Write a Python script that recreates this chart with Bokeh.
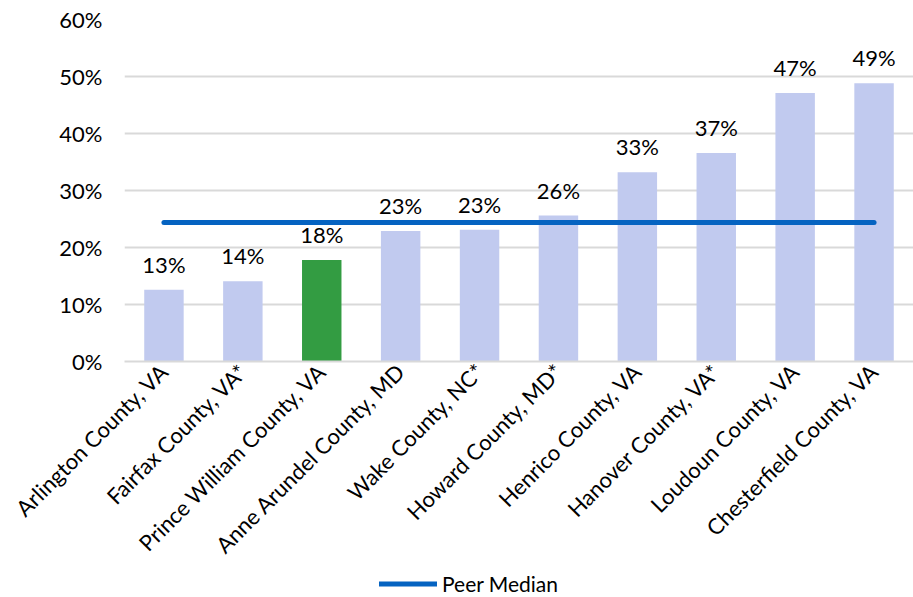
from bokeh.plotting import figure
from bokeh.layouts import column
from bokeh.models import (ColumnDataSource, FactorRange, Range1d, NumeralTickFormatter,
                          LabelSet, Legend, LegendItem, FixedTicker)
from bokeh.core.properties import value
from bokeh.embed import file_html
from bokeh.resources import INLINE

# Share of each peer county, sorted ascending
counties = [
    "Arlington County, VA",
    "Fairfax County, VA*",
    "Prince William County, VA",
    "Anne Arundel County, MD",
    "Wake County, NC*",
    "Howard County, MD*",
    "Henrico County, VA",
    "Hanover County, VA*",
    "Loudoun County, VA",
    "Chesterfield County, VA",
]
shares = [0.126, 0.141, 0.178, 0.229, 0.231, 0.256, 0.332, 0.366, 0.471, 0.488]
highlight = "Prince William County, VA"
peer_median = 0.244
y_ticks = [0.0, 0.1, 0.2, 0.3, 0.4, 0.5, 0.6]

FONT = "Lato"
FS = "22px"
BAR = "#C1CAEF"
GREEN = "#339C42"
BLUE = "#0563C1"
GRID = "#D9D9D9"

colors = [GREEN if c == highlight else BAR for c in counties]
labels = [f"{round(v * 100):.0f}%" for v in shares]

src = ColumnDataSource(dict(x=counties, top=shares, color=colors, label=labels))

p = figure(
    width=913, height=570,
    x_range=FactorRange(*counties, range_padding=0),
    y_range=Range1d(0, 0.6),
    output_backend="svg", toolbar_location=None,
    min_border_left=124, min_border_right=0, min_border_top=19, min_border_bottom=208,
)
p.outline_line_color = None
p.background_fill_color = "white"
p.border_fill_color = "white"

p.vbar(x="x", top="top", width=0.5, fill_color="color", line_color=None, source=src)

# Peer median line spanning first to last county
p.line(x=[counties[0], counties[-1]], y=[peer_median, peer_median],
       line_color=BLUE, line_width=5, line_cap="round")

p.add_layout(LabelSet(x="x", y="top", text="label", source=src,
                      text_align="center", text_baseline="alphabetic", y_offset=17,
                      text_font=value(FONT), text_font_size=value(FS),
                      text_color="black"))

# Axes
p.yaxis.ticker = FixedTicker(ticks=y_ticks)
p.yaxis.formatter = NumeralTickFormatter(format="0%")
p.yaxis.axis_line_color = None
p.yaxis.major_tick_line_color = None
p.yaxis.minor_tick_line_color = None
p.yaxis.major_label_standoff = 16
p.yaxis.major_label_text_font = FONT
p.yaxis.major_label_text_font_size = FS
p.yaxis.major_label_text_color = "black"

p.xaxis.axis_line_color = GRID
p.xaxis.axis_line_width = 2
p.xaxis.major_tick_line_color = None
p.xaxis.minor_tick_line_color = None
p.xaxis.major_label_orientation = 0.785398
p.xaxis.major_label_standoff = 0
p.xaxis.major_label_text_font = FONT
p.xaxis.major_label_text_font_size = FS
p.xaxis.major_label_text_color = "black"

p.xgrid.grid_line_color = None
p.ygrid.grid_line_color = GRID
p.ygrid.grid_line_width = 2
p.ygrid.ticker = FixedTicker(ticks=y_ticks)

# Legend strip below the chart, frame aligned with the chart above
leg = figure(width=913, height=27, x_range=Range1d(0, 1), y_range=Range1d(0, 1),
             output_backend="svg", toolbar_location=None,
             min_border_left=124, min_border_right=0, min_border_top=0, min_border_bottom=0,
             outline_line_color=None)
leg.axis.visible = False
leg.grid.visible = False
swatch = leg.line(x=[5, 6], y=[5, 5], line_color=BLUE, line_width=5, line_cap="round")
legend = Legend(items=[LegendItem(label="Peer Median", renderers=[swatch])],
                location=(255, 0), orientation="horizontal",
                border_line_color=None, background_fill_alpha=0,
                padding=0, margin=0, glyph_width=58, glyph_height=27,
                label_text_font=FONT, label_text_font_size="21px",
                label_text_color="black", label_standoff=5)
leg.add_layout(legend)

open("out.html", "w").write(file_html(column(p, leg, spacing=0), INLINE))
